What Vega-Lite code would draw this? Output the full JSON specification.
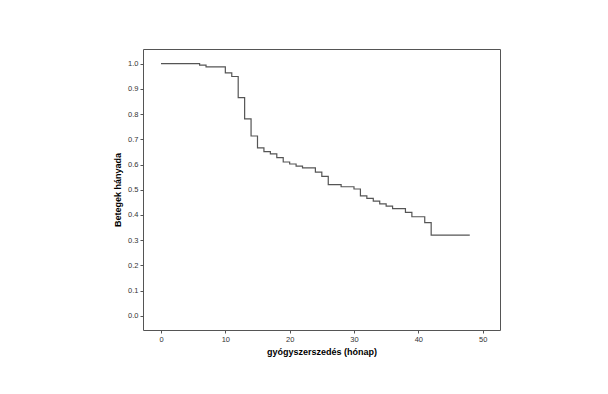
{
  "$schema": "https://vega.github.io/schema/vega-lite/v6.json",
  "width": 357,
  "height": 281,
  "autosize": {"type": "none"},
  "padding": {"left": 143, "top": 49, "right": 108, "bottom": 64},
  "background": "white",
  "config": {
    "view": {"stroke": "#555555", "strokeWidth": 1},
    "font": "Liberation Sans"
  },
  "data": {
    "values": [
      {"t": 0, "s": 1.0},
      {"t": 6, "s": 0.994},
      {"t": 7, "s": 0.987},
      {"t": 10, "s": 0.963},
      {"t": 11, "s": 0.949},
      {"t": 12, "s": 0.865},
      {"t": 13, "s": 0.781},
      {"t": 14, "s": 0.713},
      {"t": 15, "s": 0.666},
      {"t": 16, "s": 0.651},
      {"t": 17, "s": 0.642},
      {"t": 18, "s": 0.627},
      {"t": 19, "s": 0.610},
      {"t": 20, "s": 0.602},
      {"t": 21, "s": 0.594},
      {"t": 22, "s": 0.587},
      {"t": 24, "s": 0.570},
      {"t": 25, "s": 0.553},
      {"t": 26, "s": 0.520},
      {"t": 28, "s": 0.512},
      {"t": 30, "s": 0.503},
      {"t": 31, "s": 0.476},
      {"t": 32, "s": 0.466},
      {"t": 33, "s": 0.455},
      {"t": 34, "s": 0.444},
      {"t": 35, "s": 0.435},
      {"t": 36, "s": 0.425},
      {"t": 38, "s": 0.410},
      {"t": 39, "s": 0.393},
      {"t": 41, "s": 0.370},
      {"t": 42, "s": 0.320},
      {"t": 48, "s": 0.320}
    ]
  },
  "mark": {"type": "line", "interpolate": "step-after", "color": "#555555", "strokeWidth": 1.2},
  "encoding": {
    "x": {
      "field": "t",
      "type": "quantitative",
      "scale": {"domain": [-2.8, 52.7], "nice": false, "zero": false},
      "axis": {
        "values": [0, 10, 20, 30, 40, 50],
        "title": "gyógyszerszedés (hónap)",
        "titleFont": "Liberation Sans",
        "titleFontSize": 9,
        "titleFontWeight": "bold",
        "titleColor": "#000000",
        "titlePadding": 5,
        "labelFontSize": 7.5,
        "labelColor": "#333333",
        "labelPadding": 2,
        "tickSize": 3,
        "tickColor": "#555555",
        "domain": false,
        "grid": false
      }
    },
    "y": {
      "field": "s",
      "type": "quantitative",
      "scale": {"domain": [-0.056, 1.058], "nice": false, "zero": false},
      "axis": {
        "values": [0, 0.1, 0.2, 0.3, 0.4, 0.5, 0.6, 0.7, 0.8, 0.9, 1.0],
        "format": ".1f",
        "title": "Betegek hányada",
        "titleFont": "Liberation Sans",
        "titleFontSize": 9,
        "titleFontWeight": "bold",
        "titleColor": "#000000",
        "titlePadding": 5,
        "labelFontSize": 7.5,
        "labelColor": "#333333",
        "labelPadding": 2,
        "tickSize": 3,
        "tickColor": "#555555",
        "domain": false,
        "grid": false
      }
    }
  }
}
